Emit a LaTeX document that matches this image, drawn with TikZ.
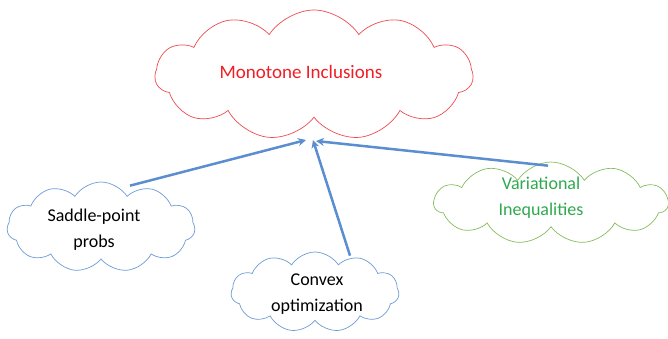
\documentclass[tikz,border=0pt]{standalone}
\usepackage{fontspec}
\setmainfont{Carlito}
\usetikzlibrary{shapes.symbols,arrows.meta}
\definecolor{cred}{HTML}{EE4A50}
\definecolor{cblue}{HTML}{6C9BD6}
\definecolor{cgreen}{HTML}{86BC5E}
\definecolor{tgreen}{HTML}{2EA84E}
\definecolor{tred}{HTML}{F21C24}
\definecolor{arrblue}{HTML}{5A8ED0}
\tikzset{
  cloudbox/.style={cloud, cloud puffs=11, cloud puff arc=115, cloud ignores aspect, draw, line width=0.7pt, inner sep=0pt},
  cloudtext/.style={align=center, inner sep=0pt, font=\fontsize{18}{26}\selectfont},
  conn/.style={draw=arrblue, line width=2.5pt, -{Stealth[length=8pt,width=8pt]}}
}
\begin{document}
\begin{tikzpicture}[x=1pt,y=-1pt]
\useasboundingbox (0,0) rectangle (668,338);
\node[cloudbox, draw=cred, minimum width=318pt, minimum height=130pt] (mi) at (314,75) {};
\node[cloudtext, text=tred, font=\fontsize{19}{22}\selectfont] (mit) at (301,72) {Monotone Inclusions};
\node[cloudbox, draw=cblue, minimum width=188pt, minimum height=90pt] (sp) at (101,227) {};
\node[cloudtext] (spt) at (94,230) {Saddle-point\\probs};
\node[cloudbox, draw=cblue, minimum width=168pt, minimum height=80pt] (co) at (315,292) {};
\node[cloudtext] (cot) at (317,294) {Convex\\optimization};
\node[cloudbox, draw=cgreen, text=tgreen, minimum width=234pt, minimum height=82pt] (vi) at (551,203) {};
\node[cloudtext, text=tgreen] (vit) at (541,198) {Variational\\Inequalities};
\coordinate (tipa) at (306,140);
\coordinate (tipb) at (313,140);
\coordinate (tipc) at (316,141);
\draw[conn] ([xshift=29pt,yshift=-4pt]sp.north) -- (tipa);
\draw[conn] ([xshift=35pt,yshift=-4pt]co.north) -- (tipb);
\draw[conn] ([xshift=-3pt,yshift=-4pt]vi.north) -- (tipc);
\end{tikzpicture}
\end{document}
